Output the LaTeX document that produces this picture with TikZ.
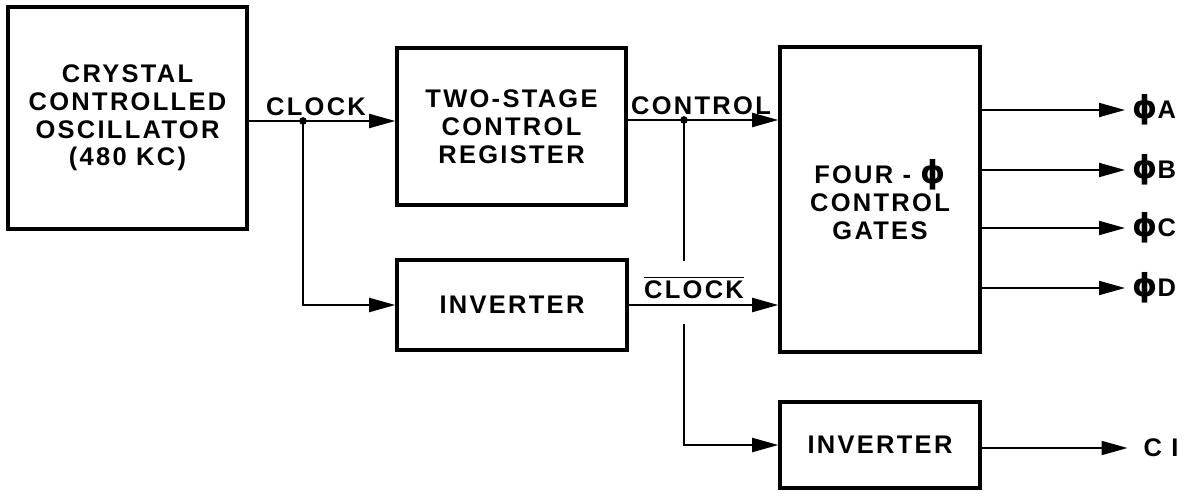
\documentclass[tikz,border=0pt]{standalone}
\usepackage{fontspec}
\setmainfont{Liberation Sans}
\newfontfamily\lblfont[LetterSpace=9]{Liberation Sans}
\newfontfamily\phifont{DejaVu Sans}
\usetikzlibrary{arrows.meta,positioning}

\newcommand{\phs}{{\phifont\fontsize{18}{18}\selectfont ϕ}}
\newcommand{\lblsize}{\lblfont\bfseries\fontsize{14.5}{15.8}\selectfont}

\begin{document}
\begin{tikzpicture}[
    block/.style={draw, line width=2pt, align=center, inner sep=0pt, font=\lblsize},
    lbl/.style={inner sep=1pt, font=\lblsize},
    sig/.style={line width=1.1pt},
    arr/.style={sig, -{Triangle[length=5.2mm, width=2.8mm]}}]
    \useasboundingbox (0,0) rectangle (23.8,-9.96);

    % Blocks
    \node[block, minimum width=4.78cm, minimum height=4.44cm] (osc) at (2.55,-2.36) {CRYSTAL\\CONTROLLED\\OSCILLATOR\\(480 KC)};
    \node[block, minimum width=4.58cm, minimum height=3.14cm] (reg) at (10.23,-2.53) {TWO-STAGE\\CONTROL\\REGISTER};
    \node[block, minimum width=4.6cm, minimum height=1.8cm] (inv-a) at (10.24,-6.1) {INVERTER};
    \node[block, minimum width=4.0cm, minimum height=6.1cm] (gates) at (17.6,-3.99) {FOUR - \phs\\CONTROL\\GATES};
    \node[block, minimum width=4.0cm, minimum height=1.72cm] (inv-b) at (17.6,-8.9) {INVERTER};

    % Junctions
    \coordinate (clk-dot) at (6.06,-2.42);
    \coordinate (ctl-dot) at (13.68,-2.40);
    \coordinate (gap-top) at (13.68,-5.22);
    \coordinate (gap-bot) at (13.68,-6.48);
    \fill (clk-dot) circle (2.2pt);
    \fill (ctl-dot) circle (2.2pt);

    \draw[sig] (osc.east |- clk-dot) -- (clk-dot);
    \draw[arr] (clk-dot) -- (reg.west |- clk-dot);
    \draw[arr] (clk-dot) |- (inv-a.west);
    \draw[sig] (reg.east |- ctl-dot) -- (ctl-dot);
    \draw[arr] (ctl-dot) -- (gates.west |- ctl-dot);
    \draw[arr] (inv-a.east) -- (gates.west |- inv-a.east);
    \draw[sig] (ctl-dot) -- (gap-top);
    \draw[arr] (gap-bot) |- (inv-b.west);

    \node[lbl, above=2pt of clk-dot, xshift=0.26cm] (clk-lbl) {CLOCK};
    \node[lbl, above=2pt of ctl-dot, xshift=0.34cm] (ctl-lbl) {CONTROL};
    \node[lbl] (clkbar-lbl) at (13.88,-5.75) {$\overline{\hbox{\lblsize CLOCK}}$};

    % Outputs
    \coordinate (out-a) at (22.5,-2.2);
    \coordinate (out-b) at (22.5,-3.4);
    \coordinate (out-c) at (22.5,-4.56);
    \coordinate (out-d) at (22.5,-5.76);
    \coordinate (out-ci) at (22.55,-8.96);
    \draw[arr] (gates.east |- out-a) -- (out-a);
    \draw[arr] (gates.east |- out-b) -- (out-b);
    \draw[arr] (gates.east |- out-c) -- (out-c);
    \draw[arr] (gates.east |- out-d) -- (out-d);
    \draw[arr] (inv-b.east |- out-ci) -- (out-ci);

    \node[lbl, right=3pt of out-a] (pa) {\phs A};
    \node[lbl, right=3pt of out-b] (pb) {\phs B};
    \node[lbl, right=3pt of out-c] (pc) {\phs C};
    \node[lbl, right=3pt of out-d] (pd) {\phs D};
    \node[lbl, right=8pt of out-ci] (ci) {C I};
\end{tikzpicture}
\end{document}
